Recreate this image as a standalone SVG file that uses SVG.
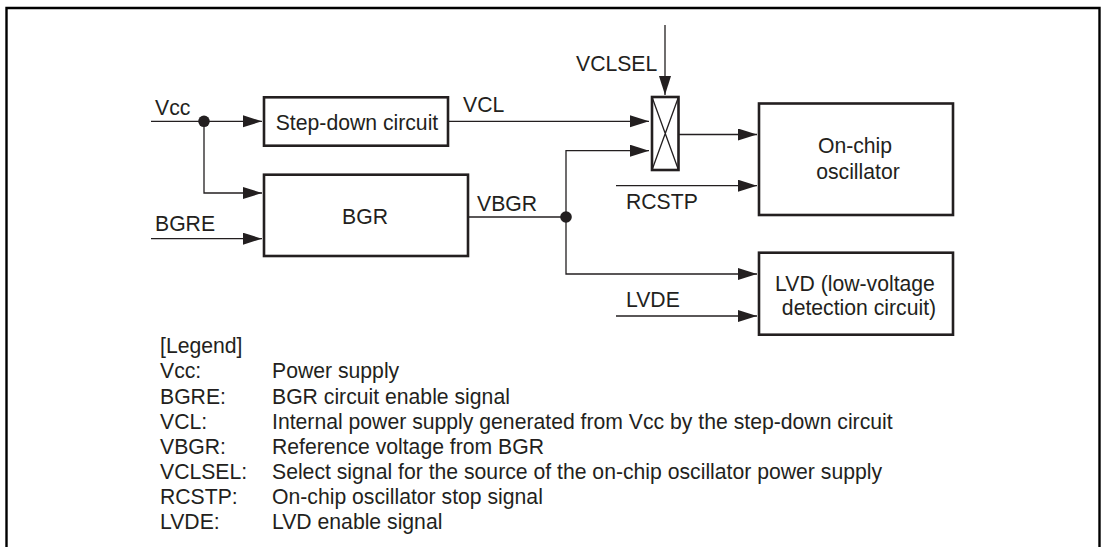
<svg xmlns="http://www.w3.org/2000/svg" width="1103" height="547" viewBox="0 0 1103 547">
<style>
text{font-family:"Liberation Sans",Arial,sans-serif;font-size:21.200px;fill:#231f20}
.c{text-anchor:middle}
.b{fill:#fff;stroke:#231f20;stroke-width:2.600}
.l{fill:none;stroke:#231f20;stroke-width:1.300;marker-end:url(#a)}
.p{fill:none;stroke:#231f20;stroke-width:1.300}
</style>
<defs><marker id="a" markerUnits="userSpaceOnUse" markerWidth="20" markerHeight="13" refX="19" refY="6" orient="auto"><path d="M0 0L19 6L0 12Z" fill="#231f20"/></marker></defs>
<rect width="1103" height="547" fill="#fff"/>
<path d="M6.500 547V8H1099.500V547" fill="none" stroke="#000" stroke-width="2.400"/>
<g id="connectors">
<path class="l" d="M151 121.300H262"/>
<path class="l" d="M204 121.300V193H262"/>
<path class="l" d="M151 238.700H262"/>
<path class="l" d="M448 121.300H649"/>
<path class="p" d="M468 217H566"/>
<path class="l" d="M566 217V150.700H649"/>
<path class="l" d="M566 217V274H757"/>
<path class="l" d="M665 25V95"/>
<path class="l" d="M679 134.500H757"/>
<path class="l" d="M616 185.700H757"/>
<path class="l" d="M616 316H757"/>
<circle cx="204" cy="121.300" r="5.800" fill="#231f20"/>
<circle cx="566" cy="217" r="5.800" fill="#231f20"/>
</g>
<g id="stepdown"><rect class="b" x="264" y="97.300" width="184" height="48.400"/><text class="c" x="357" y="130">Step-down circuit</text></g>
<g id="bgr"><rect class="b" x="264" y="174.700" width="204" height="81.300"/><text class="c" x="365" y="224">BGR</text></g>
<g id="switch"><rect class="b" x="652" y="97" width="26.500" height="73"/><path class="p" d="M652 97L678.500 170M678.500 97L652 170"/></g>
<g id="osc"><rect class="b" x="759" y="103.500" width="194" height="111.500"/><text class="c" x="855" y="153">On-chip</text><text class="c" x="858" y="179">oscillator</text></g>
<g id="lvd"><rect class="b" x="759" y="252.700" width="194" height="82"/><text class="c" x="855" y="291">LVD (low-voltage</text><text class="c" x="859" y="315">detection circuit)</text></g>
<g id="signals">
<text x="155" y="115">Vcc</text>
<text x="155" y="231">BGRE</text>
<text x="463" y="112">VCL</text>
<text x="477" y="211">VBGR</text>
<text x="576" y="70.500">VCLSEL</text>
<text x="626" y="209">RCSTP</text>
<text x="626" y="307">LVDE</text>
</g>
<g id="legend">
<text x="160" y="353">[Legend]</text>
<text x="160" y="378">Vcc:</text><text x="272" y="378">Power supply</text>
<text x="160" y="404">BGRE:</text><text x="272" y="404">BGR circuit enable signal</text>
<text x="160" y="429">VCL:</text><text x="272" y="429">Internal power supply generated from Vcc by the step-down circuit</text>
<text x="160" y="454">VBGR:</text><text x="272" y="454">Reference voltage from BGR</text>
<text x="160" y="479">VCLSEL:</text><text x="272" y="479">Select signal for the source of the on-chip oscillator power supply</text>
<text x="160" y="504">RCSTP:</text><text x="272" y="504">On-chip oscillator stop signal</text>
<text x="160" y="529">LVDE:</text><text x="272" y="529">LVD enable signal</text>
</g>
</svg>
